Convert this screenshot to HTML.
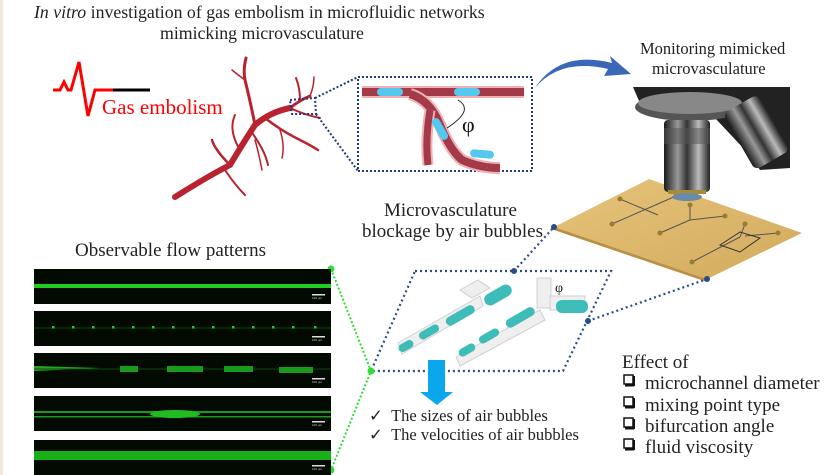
<!DOCTYPE html>
<html><head><meta charset="utf-8"><style>
html,body{margin:0;padding:0;background:#fff;}
body{width:833px;height:475px;overflow:hidden;position:relative;font-family:"Liberation Serif",serif;color:#222;}
.t{position:absolute;white-space:nowrap;line-height:1.15;}
</style></head><body>
<div style="position:absolute;left:0;top:0;width:3px;height:475px;background:#eee9d8"></div>
<svg width="833" height="475" style="position:absolute;left:0;top:0">
<defs>
<linearGradient id="met" x1="0" x2="1"><stop offset="0" stop-color="#1a1a1a"/><stop offset=".3" stop-color="#999"/><stop offset=".5" stop-color="#333"/><stop offset=".75" stop-color="#bbb"/><stop offset="1" stop-color="#222"/></linearGradient>
<linearGradient id="chip" x1="0" y1="0" x2="1" y2="1"><stop offset="0" stop-color="#e6c47c"/><stop offset="1" stop-color="#d2aa5c"/></linearGradient>
</defs>
<polyline points="53,90 60,90 64,82 68,90 71,90 79,62 88,116 95,90 114,90" fill="none" stroke="#f00" stroke-width="3"/>
<line x1="113" y1="90" x2="150" y2="90" stroke="#000" stroke-width="3"/>
<g fill="none" stroke="#b8232f" stroke-linecap="round">
<path d="M175,197 Q210,175 230,165 Q245,140 255,125 Q270,112 290,108" stroke-width="6"/>
<path d="M255,125 Q250,100 245,80 Q243,70 246,58" stroke-width="3"/>
<path d="M290,108 Q300,100 310,96" stroke-width="3"/>
<path d="M290,108 Q305,115 320,118" stroke-width="2"/>
<path d="M300,100 Q300,88 296,78" stroke-width="2"/>
<path d="M310,96 Q314,86 314,77" stroke-width="1.5"/>
<path d="M265,118 Q280,130 300,140 Q310,145 318,150" stroke-width="2.5"/>
<path d="M280,130 Q285,145 282,158" stroke-width="1.5"/>
<path d="M230,165 Q215,150 212,140" stroke-width="2.5"/>
<path d="M240,150 Q228,130 235,115" stroke-width="2"/>
<path d="M225,170 Q235,185 245,195" stroke-width="2"/>
<path d="M250,130 Q265,150 268,165" stroke-width="2"/>
<path d="M245,80 Q238,75 232,70" stroke-width="1.5"/>
<path d="M255,140 Q258,150 262,170" stroke-width="1.5"/>
</g>
<g fill="none" stroke="#1f3a7a" stroke-width="2" stroke-dasharray="2,2">
<polygon points="290,100 315,98 316,114 292,114"/>
<line x1="315" y1="98" x2="358" y2="77"/>
<line x1="316" y1="114" x2="358" y2="171"/>
<rect x="358" y="77" width="174" height="94"/>
</g>
<g fill="none" stroke-linecap="butt">
<path d="M362,92 L524,92" stroke="#f2b0b0" stroke-width="12"/>
<path d="M362,92 L524,92" stroke="#a33a4a" stroke-width="8"/>
<path d="M410,94 Q430,100 440,125 Q450,150 462,160 Q480,168 500,168" stroke="#f2b0b0" stroke-width="12"/>
<path d="M410,94 Q430,100 440,125 Q450,150 462,160 Q480,168 500,168" stroke="#a33a4a" stroke-width="8"/>
<path d="M430,110 Q425,140 428,165" stroke="#f2b0b0" stroke-width="11"/>
<path d="M430,110 Q425,140 428,165" stroke="#a33a4a" stroke-width="7"/>
</g>
<g fill="#55c8f0">
<rect x="377" y="88" width="26" height="8" rx="4"/>
<rect x="454" y="88" width="26" height="8" rx="4"/>
<rect x="470" y="150" width="24" height="8" rx="4" transform="rotate(5 482 154)"/>
<rect x="428" y="125" width="24" height="8" rx="4" transform="rotate(60 440 129)"/>
</g>
<path d="M458,100 Q475,110 447,128" fill="none" stroke="#222" stroke-width="1"/>
<text x="462" y="132" font-family="Liberation Serif" font-size="22" fill="#111">φ</text>
<path d="M535,88 Q560,50 612,63 L610,56 L631,74 L604,76 L608,69 Q560,58 535,88 Z" fill="#3a67b8"/>
<polygon points="554,227 649,179 802,233 707,279" fill="url(#chip)"/>
<polygon points="554,227 707,279 707,282 554,230" fill="#b99045"/>
<g stroke="#555" stroke-width="1" fill="none">
<line x1="612" y1="224" x2="676" y2="196"/><line x1="620" y1="199" x2="658" y2="215"/>
<line x1="660" y1="233" x2="690" y2="220"/><line x1="690" y1="220" x2="690" y2="205"/><line x1="690" y1="220" x2="725" y2="216"/>
<line x1="692" y1="262" x2="740" y2="237"/><line x1="740" y1="237" x2="745" y2="224"/><line x1="745" y1="236" x2="778" y2="233"/>
<polygon points="720,245 740,232 760,238 740,252" stroke="#333"/>
</g>
<g fill="#9b7a35"><circle cx="612" cy="224" r="2.5"/><circle cx="620" cy="199" r="2.5"/><circle cx="676" cy="196" r="2.5"/><circle cx="660" cy="233" r="2.5"/><circle cx="690" cy="205" r="2.5"/><circle cx="725" cy="216" r="2.5"/><circle cx="692" cy="262" r="2.5"/><circle cx="745" cy="224" r="2.5"/><circle cx="778" cy="233" r="2.5"/></g>
<polygon points="633,87 790,87 790,168 760,170 745,150 715,118 690,120 645,115" fill="#222"/>
<ellipse cx="690" cy="107" rx="55" ry="14" fill="#555"/>
<ellipse cx="690" cy="103" rx="52" ry="11" fill="#888"/>
<g transform="rotate(-30 755 130)"><rect x="735" y="100" width="40" height="65" rx="6" fill="url(#met)"/></g>
<rect x="664" y="120" width="46" height="72" rx="4" fill="url(#met)"/>
<rect x="664" y="128" width="46" height="16" fill="#555" opacity=".5"/>
<rect x="668" y="190" width="38" height="4" fill="#a88a3a"/>
<ellipse cx="687" cy="197" rx="15" ry="4" fill="#6a8aa8"/>
<g fill="none" stroke="#2b4c8c" stroke-width="2.2" stroke-dasharray="2,3">
<polygon points="415,271 611,271 563,371 371,371"/>
<line x1="514" y1="271" x2="554" y2="227"/>
<line x1="588" y1="321" x2="707" y2="279"/>
</g>
<g fill="#2b4c8c"><circle cx="514" cy="271" r="3"/><circle cx="588" cy="321" r="3"/><circle cx="554" cy="227" r="3"/><circle cx="707" cy="279" r="3"/></g>
<g fill="#eee" stroke="#ccc" stroke-width="1" opacity=".9">
<polygon points="398,343 480,296 483,306 402,354"/>
<polygon points="460,290 478,280 490,288 472,298"/>
<polygon points="456,357 540,310 545,320 460,366"/>
<rect x="537" y="278" width="14" height="30"/>
<rect x="550" y="296" width="35" height="14"/>
</g>
<g fill="#3ebdb8">
<rect x="398" y="342" width="16" height="8" rx="4" transform="rotate(-30 406 346)"/>
<rect x="418" y="328" width="22" height="8" rx="4" transform="rotate(-30 429 332)"/>
<rect x="444" y="311" width="32" height="9" rx="4.5" transform="rotate(-30 460 315)"/>
<rect x="483" y="289" width="30" height="12" rx="6" transform="rotate(-30 498 295)"/>
<rect x="458" y="346" width="18" height="8" rx="4" transform="rotate(-30 467 350)"/>
<rect x="478" y="332" width="22" height="8" rx="4" transform="rotate(-30 489 336)"/>
<rect x="504" y="313" width="32" height="9" rx="4.5" transform="rotate(-30 520 317)"/>
<rect x="556" y="300" width="32" height="13" rx="6"/>
</g>
<text x="555" y="292" font-family="Liberation Serif" font-size="14" fill="#111">φ</text>
<polygon points="428,360 445,360 445,392 453,392 437,405 420,392 428,392" fill="#0aa7ec"/>
<g fill="none" stroke="#33dd33" stroke-width="2" stroke-dasharray="2,2"><polyline points="331,269 371,371 331,470"/></g>
<g fill="#33dd33"><circle cx="331" cy="269" r="3.5"/><circle cx="371" cy="371" r="3.5"/><circle cx="331" cy="470" r="3.5"/></g>
<g>
<rect x="34" y="269" width="297" height="35" fill="#020a02"/>
<rect x="34" y="284" width="297" height="4" fill="#22cc22"/>
<rect x="34" y="311" width="297" height="35" fill="#020a02"/>
<line x1="34" y1="328" x2="331" y2="328" stroke="#0a4a0a"/>
<rect x="34" y="353" width="297" height="35" fill="#020a02"/>
<polygon points="34,366 100,368 34,371" fill="#22aa22"/>
<line x1="34" y1="369" x2="331" y2="369" stroke="#0a4a0a"/>
<g fill="#1a9a1a"><rect x="120" y="366" width="18" height="6"/><rect x="167" y="366" width="36" height="6"/><rect x="224" y="366" width="29" height="6"/><rect x="279" y="367" width="34" height="6"/></g>
<rect x="34" y="396" width="297" height="35" fill="#020a02"/>
<rect x="34" y="411" width="297" height="2" fill="#1d9a1d"/>
<rect x="34" y="416" width="297" height="1.5" fill="#1d9a1d"/>
<ellipse cx="175" cy="414" rx="25" ry="4" fill="#22bb22"/>
<rect x="34" y="440" width="297" height="35" fill="#020a02"/>
<rect x="34" y="451" width="297" height="9" fill="#18b018"/>
</g>
<g fill="#20cc20"><rect x="52" y="326" width="2.5" height="2.5"/><rect x="72" y="326" width="2.5" height="2.5"/><rect x="92" y="326" width="2.5" height="2.5"/><rect x="112" y="326" width="2.5" height="2.5"/><rect x="132" y="326" width="2.5" height="2.5"/><rect x="152" y="326" width="2.5" height="2.5"/><rect x="172" y="326" width="2.5" height="2.5"/><rect x="192" y="326" width="2.5" height="2.5"/><rect x="212" y="326" width="2.5" height="2.5"/><rect x="232" y="326" width="2.5" height="2.5"/><rect x="252" y="326" width="2.5" height="2.5"/><rect x="272" y="326" width="2.5" height="2.5"/><rect x="292" y="326" width="2.5" height="2.5"/><rect x="314" y="326" width="2.5" height="2.5"/></g>
<g fill="#ddd"><rect x="312" y="294" width="13" height="1.5"/><rect x="312" y="336" width="13" height="1.5"/><rect x="312" y="378" width="13" height="1.5"/><rect x="312" y="421" width="13" height="1.5"/><rect x="312" y="465" width="13" height="1.5"/></g>
<g font-family="Liberation Sans" font-size="3" fill="#ccc"><text x="312" y="299">100 µm</text><text x="312" y="341">100 µm</text><text x="312" y="383">100 µm</text><text x="312" y="426">100 µm</text><text x="312" y="470">100 µm</text></g>
<g fill="none" stroke="#111" stroke-width="1.5"><rect x="624" y="375" width="9" height="9"/><rect x="624" y="397" width="9" height="9"/><rect x="624" y="418" width="9" height="9"/><rect x="624" y="439" width="9" height="9"/></g>
<g stroke="#111" stroke-width="2"><line x1="634" y1="376" x2="634" y2="386"/><line x1="625" y1="385.5" x2="634" y2="385.5"/><line x1="634" y1="398" x2="634" y2="408"/><line x1="625" y1="407.5" x2="634" y2="407.5"/><line x1="634" y1="419" x2="634" y2="429"/><line x1="625" y1="428.5" x2="634" y2="428.5"/><line x1="634" y1="440" x2="634" y2="450"/><line x1="625" y1="449.5" x2="634" y2="449.5"/></g>
</svg>
<div class="t" style="left:34px;top:2px;font-size:17.8px"><i>In vitro</i> investigation of gas embolism in microfluidic networks</div>
<div class="t" style="left:160px;top:23px;font-size:17.8px">mimicking microvasculature</div>
<div class="t" style="left:102px;top:95px;font-size:21px;color:#f00;">Gas embolism</div>
<div class="t" style="left:640px;top:40px;font-size:16.5px">Monitoring mimicked</div>
<div class="t" style="left:652px;top:60px;font-size:16.5px">microvasculature</div>
<div class="t" style="left:384px;top:200px;font-size:19px">Microvasculature</div>
<div class="t" style="left:362px;top:221px;font-size:19px">blockage by air bubbles</div>
<div class="t" style="left:75px;top:240px;font-size:19px">Observable flow patterns</div>
<div class="t" style="left:369px;top:407px;font-size:16.5px">✓ &nbsp;The sizes of air bubbles</div>
<div class="t" style="left:369px;top:426px;font-size:16.5px">✓ &nbsp;The velocities of air bubbles</div>
<div class="t" style="left:622px;top:352px;font-size:19px">Effect of</div>
<div class="t" style="left:645px;top:373px;font-size:19px">microchannel diameter</div>
<div class="t" style="left:645px;top:395px;font-size:19px">mixing point type</div>
<div class="t" style="left:645px;top:416px;font-size:19px">bifurcation angle</div>
<div class="t" style="left:645px;top:437px;font-size:19px">fluid viscosity</div>
</body></html>
